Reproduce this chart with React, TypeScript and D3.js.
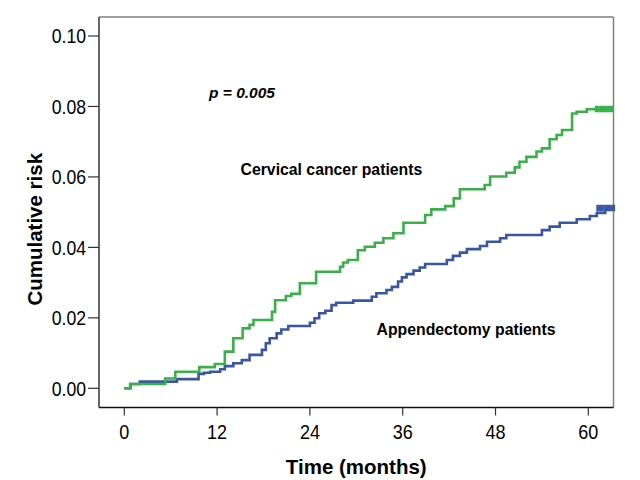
import React from "react";
import * as d3 from "d3";

const xTicks = [0, 12, 24, 36, 48, 60];
const yTicks = [0, 0.02, 0.04, 0.06, 0.08, 0.1];

const greenTime = [0, 0.75, 5.3, 6.6, 9.7, 11.7, 13.0, 14.1, 15.3, 16.2, 16.7, 19.1, 19.5, 20.9, 21.6, 22.7, 24.8, 27.9, 28.3, 28.9, 30.2, 31.1, 32.4, 33.5, 34.8, 36.1, 38.9, 39.7, 41.5, 42.6, 43.4, 46.6, 47.3, 49.4, 50.5, 51.1, 52.0, 53.3, 54.0, 55.0, 55.9, 56.6, 57.9, 58.5, 59.8, 63.2];
const greenRisk = [0, 0.0012, 0.0028, 0.0047, 0.006, 0.0069, 0.0104, 0.0142, 0.017, 0.018, 0.0194, 0.0217, 0.025, 0.0262, 0.0268, 0.0298, 0.0331, 0.0345, 0.0357, 0.0364, 0.0392, 0.0402, 0.0413, 0.0426, 0.044, 0.047, 0.0492, 0.0508, 0.0517, 0.0539, 0.0565, 0.0577, 0.0601, 0.0612, 0.0627, 0.0643, 0.0657, 0.0672, 0.0681, 0.0707, 0.0719, 0.0733, 0.078, 0.0785, 0.0792, 0.0792];

const blueTime = [0, 0.8, 2.0, 6.8, 9.6, 10.3, 11.1, 12.4, 13.0, 14.1, 15.2, 16.2, 17.8, 18.3, 18.8, 19.7, 20.3, 21.2, 24.0, 24.6, 25.2, 26.0, 26.8, 27.4, 29.6, 32.0, 32.6, 33.9, 34.6, 35.4, 35.9, 36.5, 37.4, 38.2, 38.9, 41.7, 42.5, 43.4, 44.3, 46.0, 46.9, 48.6, 49.4, 54.0, 55.0, 56.3, 58.5, 60.2, 61.1, 62.2, 63.3];
const blueRisk = [0, 0.0012, 0.0019, 0.0026, 0.0041, 0.0044, 0.0047, 0.0054, 0.0063, 0.0071, 0.008, 0.0095, 0.0109, 0.0128, 0.0142, 0.0156, 0.0167, 0.0177, 0.0186, 0.0199, 0.0213, 0.022, 0.0236, 0.0243, 0.0249, 0.026, 0.027, 0.0279, 0.0288, 0.0303, 0.0315, 0.0324, 0.0334, 0.0343, 0.0353, 0.0364, 0.0376, 0.0385, 0.0395, 0.0404, 0.0416, 0.0426, 0.0435, 0.0449, 0.0459, 0.047, 0.048, 0.0489, 0.0498, 0.0511, 0.0511];

const greenCensor = [61.0, 61.3, 61.6, 61.9, 62.2, 62.5, 62.8, 63.1];
const blueCensor = [61.2, 61.5, 61.8, 62.1, 62.4, 62.7, 63.0, 63.3];

const GREEN = "#3bb04a";
const BLUE = "#3b55a3";
const FONT = "Arial, 'Liberation Sans', Helvetica, sans-serif";

export default function App() {
  const left = 99, right = 613.5, top = 17, bottom = 407.5;
  const x = d3.scaleLinear().domain([0, 60]).range([124.3, 588.3]);
  const y = d3.scaleLinear().domain([0, 0.1]).range([388.3, 36]);

  const line = d3
    .line<[number, number]>()
    .x((d) => x(d[0]))
    .y((d) => y(d[1]))
    .curve(d3.curveStepAfter);

  const green: [number, number][] = greenTime.map((t, i) => [t, greenRisk[i]]);
  const blue: [number, number][] = blueTime.map((t, i) => [t, blueRisk[i]]);
  const lastG = greenRisk[greenRisk.length - 1];
  const lastB = blueRisk[blueRisk.length - 1];

  return (
    <svg
      width={640}
      height={480}
      style={{ position: "absolute", left: 0, top: 0, background: "#fff" }}
      fontFamily={FONT}
    >
      <rect x={0} y={0} width={640} height={480} fill="#fff" />
      {/* frame */}
      <line x1={left} y1={top} x2={right} y2={top} stroke="#808080" strokeWidth={1.5} />
      <line x1={right} y1={top} x2={right} y2={bottom} stroke="#808080" strokeWidth={1.5} />
      <line x1={left} y1={top} x2={left} y2={bottom} stroke="#333" strokeWidth={1.5} />
      <line x1={left} y1={bottom} x2={right} y2={bottom} stroke="#111" strokeWidth={1.5} />

      {/* y ticks */}
      {yTicks.map((v) => (
        <g key={"y" + v}>
          <line x1={left - 11} x2={left} y1={y(v)} y2={y(v)} stroke="#333" strokeWidth={1.2} />
          <g transform={`translate(${left - 13},${y(v)}) scale(0.86,1)`}>
            <text x={0} y={0} dy="0.36em" textAnchor="end" fontSize={20.5} fill="#000">
              {d3.format(".2f")(v)}
            </text>
          </g>
        </g>
      ))}
      {/* x ticks */}
      {xTicks.map((t) => (
        <g key={"x" + t}>
          <line x1={x(t)} x2={x(t)} y1={bottom} y2={bottom + 8} stroke="#333" strokeWidth={1.2} />
          <g transform={`translate(${x(t)},438.5) scale(0.9,1)`}>
            <text x={0} y={0} textAnchor="middle" fontSize={20} fill="#000">
              {t}
            </text>
          </g>
        </g>
      ))}

      {/* curves */}
      <path d={line(blue) || ""} fill="none" stroke={BLUE} strokeWidth={2.6} />
      <path d={line(green) || ""} fill="none" stroke={GREEN} strokeWidth={2.6} />
      {greenCensor.map((t, i) => (
        <line key={"gc" + i} x1={x(t)} x2={x(t)} y1={y(lastG) - 3.5} y2={y(lastG) + 3} stroke={GREEN} strokeWidth={2.6} />
      ))}
      {blueCensor.map((t, i) => (
        <line key={"bc" + i} x1={x(t)} x2={x(t)} y1={y(lastB) - 3.5} y2={y(lastB) + 3} stroke={BLUE} strokeWidth={2.6} />
      ))}

      {/* annotations */}
      <text x={209} y={98} fontSize={15.5} fontWeight="bold" fontStyle="italic" fill="#000">
        p = 0.005
      </text>
      <text x={240.5} y={174.5} fontSize={15.8} fontWeight="bold" fill="#000">
        Cervical cancer patients
      </text>
      <text x={376.5} y={335} fontSize={15.8} fontWeight="bold" fill="#000">
        Appendectomy patients
      </text>

      {/* axis titles */}
      <text x={(left + right) / 2} y={474} textAnchor="middle" fontSize={20.5} fontWeight="bold" fill="#000">
        Time (months)
      </text>
      <text
        transform={`translate(42, ${(top + bottom) / 2 + 17}) rotate(-90)`}
        textAnchor="middle"
        fontSize={20.5}
        fontWeight="bold"
        fill="#000"
      >
        Cumulative risk
      </text>
    </svg>
  );
}
